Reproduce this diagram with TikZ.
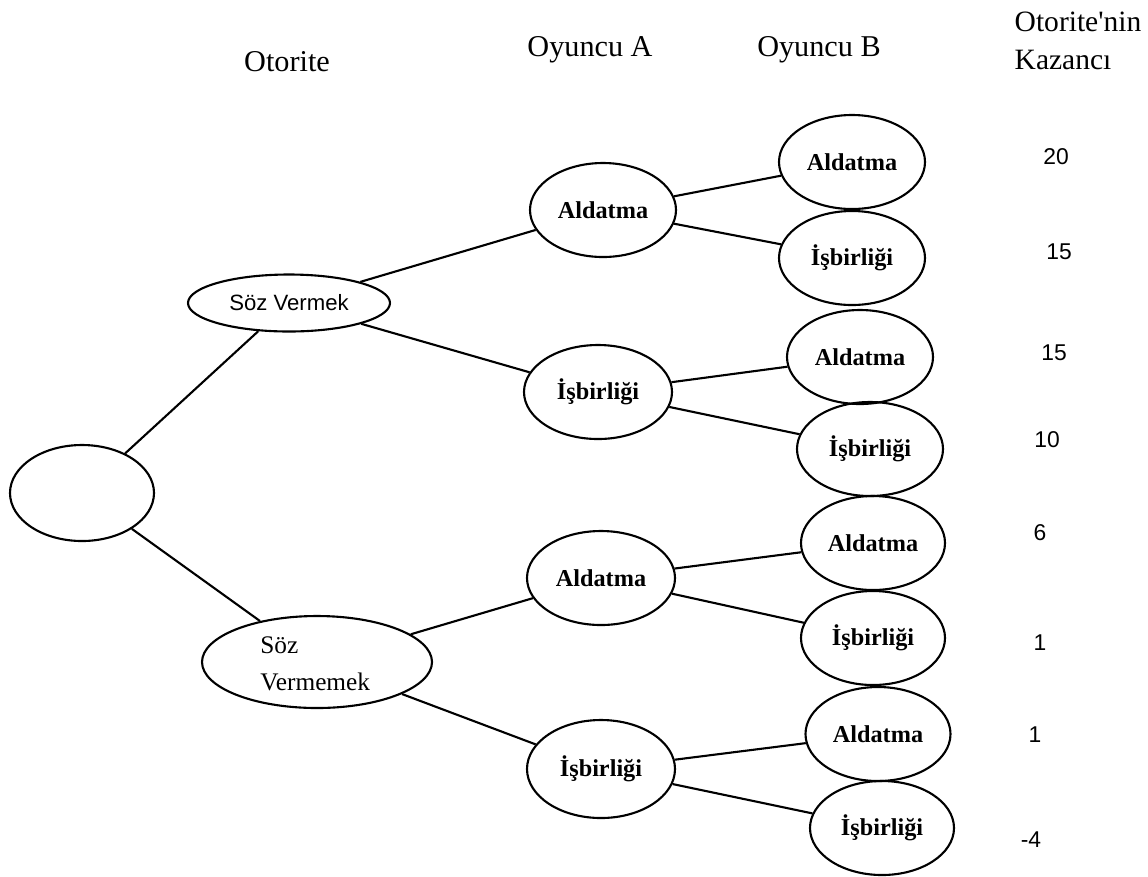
\documentclass[tikz,border=0pt]{standalone}
\usepackage{fontspec}
\setmainfont{Liberation Serif}
\newfontfamily\numfont{Liberation Sans}
\usetikzlibrary{shapes.geometric}
\tikzset{
  ell/.style={draw, ellipse, line width=0.6pt, inner sep=0pt, minimum width=14.6mm, minimum height=9.4mm},
  lab/.style={font=\fontsize{6.9}{8}\selectfont\bfseries},
  head/.style={font=\fontsize{8.6}{10}\selectfont},
  num/.style={font=\numfont\fontsize{6.5}{7}\selectfont},
  conn/.style={line width=0.6pt}
}
\begin{document}
\begin{tikzpicture}[x=0.1mm, y=-0.1mm]
\useasboundingbox (0,0) rectangle (1148,876);
% headers
\node[head] (hOt) at (287,62) {Otorite};
\node[head] (hA) at (590,50) {Oyuncu A};
\node[head] (hB) at (819,50) {Oyuncu B};
\node[head, anchor=west, align=left, font=\fontsize{8.4}{10.8}\selectfont, inner sep=0pt] (hK) at (1014,41) {Otorite\textquotesingle nin\\Kazancı};
% root and authority nodes
\node[ell, minimum width=14.4mm, minimum height=9.6mm] (root) at (82,493) {};
\node[ell, minimum width=20.2mm, minimum height=5.7mm, font=\numfont\fontsize{6.3}{7}\selectfont] (sv) at (289,303) {Söz Vermek};
\node[ell, minimum width=23mm, minimum height=9.2mm] (svm) at (317,662) {};
\node[anchor=west, align=left, font=\fontsize{7.2}{10.6}\selectfont] (svmt) at (248,664) {Söz\\Vermemek};
% player A nodes
\node[ell, lab] (a1) at (603,210) {Aldatma};
\node[ell, lab, minimum width=14.8mm] (a2) at (598,392) {İşbirliği};
\node[ell, lab, minimum width=14.8mm] (a3) at (601,578) {Aldatma};
\node[ell, lab, minimum width=14.8mm, minimum height=9.8mm] (a4) at (601,769) {İşbirliği};
% player B nodes
\node[ell, lab] (b1) at (852,162) {Aldatma};
\node[ell, lab] (b2) at (852,258) {İşbirliği};
\node[ell, lab] (b3) at (860,357) {Aldatma};
\node[ell, lab] (b4) at (870,449) {İşbirliği};
\node[ell, lab, minimum width=14.4mm] (b5) at (873,543) {Aldatma};
\node[ell, lab, minimum width=14.4mm] (b6) at (873,638) {İşbirliği};
\node[ell, lab, minimum width=14.5mm] (b7) at (878,734) {Aldatma};
\node[ell, lab, minimum width=14.4mm] (b8) at (882,828) {İşbirliği};
% payoffs
\node[num] (p1) at (1056,157) {20};
\node[num] (p2) at (1059,252) {15};
\node[num] (p3) at (1054,353) {15};
\node[num] (p4) at (1047,440) {10};
\node[num] (p5) at (1040,533) {6};
\node[num] (p6) at (1040,643) {1};
\node[num] (p7) at (1035,735) {1};
\node[num] (p8) at (1031,840) {-4};
% connectors
\draw[conn] (root) -- (sv);
\draw[conn] (root) -- (svm);
\draw[conn] (sv) -- (a1);
\draw[conn] (sv) -- (a2);
\draw[conn] (svm) -- (a3);
\draw[conn] (svm) -- (a4);
\draw[conn] (a1) -- (b1);
\draw[conn] (a1) -- (b2);
\draw[conn] (a2) -- (b3);
\draw[conn] (a2) -- (b4);
\draw[conn] (a3) -- (b5);
\draw[conn] (a3) -- (b6);
\draw[conn] (a4) -- (b7);
\draw[conn] (a4) -- (b8);
\end{tikzpicture}
\end{document}
